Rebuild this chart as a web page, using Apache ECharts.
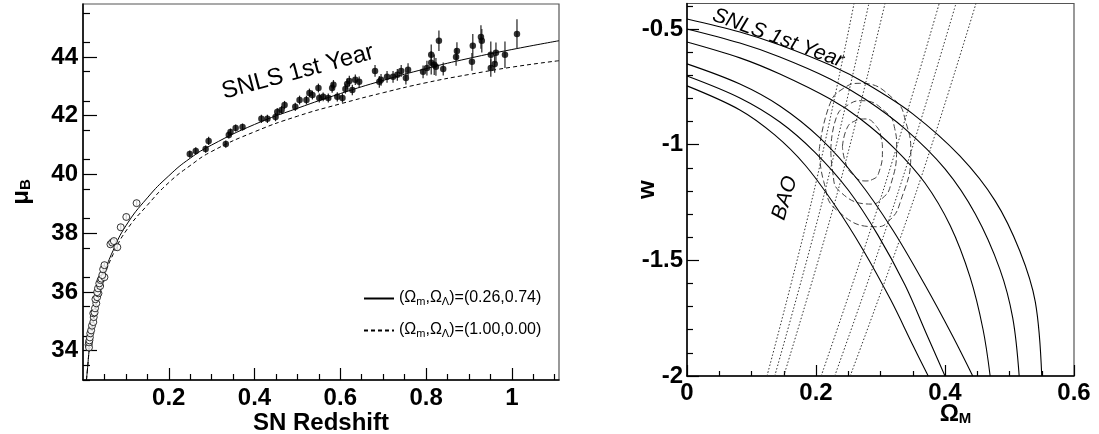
<!DOCTYPE html>
<html>
<head>
<meta charset="utf-8">
<script src="https://cdn.jsdelivr.net/npm/echarts@6/dist/echarts.min.js"></script>
<style>
html, body { margin: 0; padding: 0; background: #fff; }
#main { width: 1099px; height: 434px; }
</style>
</head>
<body>
<div id="main"></div>
<script>
// ---- left panel: Hubble diagram ----
// [redshift, mu_B, error]
var nearbySN = [
  [0.013, 34.20, 0.12], [0.014, 34.11, 0.12], [0.014, 34.28, 0.12], [0.015, 34.35, 0.12],
  [0.016, 34.45, 0.12], [0.017, 34.59, 0.12], [0.019, 34.69, 0.12], [0.021, 34.85, 0.1],
  [0.024, 34.97, 0.1], [0.025, 35.14, 0.1], [0.024, 35.27, 0.1], [0.027, 35.30, 0.1],
  [0.028, 35.44, 0.1], [0.031, 35.61, 0.1], [0.029, 35.75, 0.1], [0.033, 35.82, 0.1],
  [0.036, 35.95, 0.1], [0.033, 35.99, 0.1], [0.035, 36.12, 0.1], [0.040, 36.20, 0.1],
  [0.038, 36.29, 0.1], [0.041, 36.40, 0.1], [0.043, 36.45, 0.1], [0.050, 36.50, 0.1],
  [0.045, 36.57, 0.1], [0.047, 36.77, 0.1], [0.050, 36.91, 0.1], [0.064, 37.62, 0.1],
  [0.068, 37.68, 0.1], [0.072, 37.73, 0.1], [0.080, 37.52, 0.1], [0.088, 38.20, 0.1],
  [0.101, 38.55, 0.1], [0.125, 39.02, 0.1]
];
var snlsSN = [
  [0.249, 40.69, 0.12], [0.263, 40.80, 0.12], [0.286, 40.86, 0.12], [0.293, 41.14, 0.14],
  [0.333, 41.03, 0.12], [0.340, 41.34, 0.12], [0.344, 41.44, 0.12], [0.356, 41.58, 0.12],
  [0.372, 41.61, 0.12], [0.416, 41.89, 0.14], [0.430, 41.89, 0.14], [0.449, 41.95, 0.14],
  [0.453, 42.12, 0.14], [0.463, 42.19, 0.14], [0.470, 42.36, 0.14], [0.495, 42.30, 0.14],
  [0.505, 42.53, 0.15], [0.521, 42.53, 0.15], [0.528, 42.77, 0.15], [0.535, 42.70, 0.15],
  [0.549, 42.94, 0.15], [0.551, 42.60, 0.15], [0.560, 42.64, 0.15], [0.572, 42.60, 0.15],
  [0.581, 42.94, 0.16], [0.584, 43.05, 0.16], [0.593, 42.64, 0.16], [0.605, 42.60, 0.16],
  [0.612, 42.91, 0.16], [0.616, 43.08, 0.18], [0.621, 43.18, 0.18], [0.628, 42.87, 0.18],
  [0.635, 43.22, 0.18], [0.644, 43.15, 0.18], [0.681, 43.52, 0.2], [0.691, 43.15, 0.2],
  [0.695, 43.22, 0.2], [0.709, 43.32, 0.2], [0.723, 43.32, 0.2], [0.733, 43.39, 0.2],
  [0.742, 43.52, 0.2], [0.753, 43.28, 0.22], [0.758, 43.56, 0.22], [0.793, 43.49, 0.22],
  [0.802, 43.62, 0.25], [0.812, 44.07, 0.35], [0.812, 43.80, 0.4], [0.819, 43.73, 0.35],
  [0.823, 43.66, 0.3], [0.830, 44.55, 0.35], [0.840, 43.59, 0.22], [0.870, 44.00, 0.3],
  [0.872, 44.20, 0.3], [0.907, 43.83, 0.3], [0.909, 44.38, 0.4], [0.928, 44.68, 0.4],
  [0.930, 44.55, 0.4], [0.951, 44.07, 0.45], [0.951, 43.62, 0.3], [0.963, 44.14, 0.35],
  [0.960, 43.76, 0.3], [0.984, 44.07, 0.45], [1.012, 44.78, 0.5]
];
// model curves: [z, mu]
var lcdmCurve = [
  [0.008, 33.0], [0.01, 33.3], [0.015, 34.1], [0.02, 34.6], [0.03, 35.5], [0.04, 36.15],
  [0.05, 36.65], [0.07, 37.4], [0.1, 38.25], [0.15, 39.2], [0.2, 39.95], [0.25, 40.55],
  [0.3, 41.0], [0.4, 41.7], [0.5, 42.25], [0.6, 42.75], [0.7, 43.2], [0.8, 43.6],
  [0.9, 43.95], [1.0, 44.25], [1.11, 44.55]
];
var edsCurve = [
  [0.008, 33.0], [0.01, 33.3], [0.015, 34.08], [0.02, 34.57], [0.03, 35.45], [0.04, 36.08],
  [0.05, 36.56], [0.07, 37.27], [0.1, 38.07], [0.15, 38.95], [0.2, 39.72], [0.25, 40.3],
  [0.3, 40.78], [0.4, 41.45], [0.5, 41.98], [0.6, 42.4], [0.7, 42.78], [0.8, 43.12],
  [0.9, 43.4], [1.0, 43.65], [1.11, 43.87]
];
var xTicksL = [0.2, 0.4, 0.6, 0.8, 1];
var yTicksL = [34, 36, 38, 40, 42, 44];

// ---- right panel: (Omega_M, w) contours ----
var snlsUpper = [
  [[0, -0.457], [0.082, -0.513], [0.144, -0.569], [0.222, -0.656], [0.279, -0.738], [0.350, -0.867],
   [0.423, -1.049], [0.478, -1.244], [0.516, -1.460], [0.540, -1.680], [0.550, -2.0]],
  [[0, -0.5], [0.082, -0.561], [0.144, -0.621], [0.222, -0.716], [0.276, -0.803], [0.338, -0.932],
   [0.400, -1.105], [0.447, -1.300], [0.485, -1.538], [0.505, -1.749], [0.515, -2.0]],
  [[0, -0.556], [0.082, -0.625], [0.144, -0.695], [0.222, -0.803], [0.268, -0.887], [0.322, -1.017],
   [0.369, -1.166], [0.408, -1.350], [0.439, -1.574], [0.459, -1.799], [0.470, -2.0]]
];
var snlsLower = [
  [[0, -0.651], [0.082, -0.738], [0.144, -0.833], [0.206, -0.971], [0.265, -1.153], [0.319, -1.369],
   [0.369, -1.607], [0.411, -1.823], [0.443, -2.0]],
  [[0, -0.703], [0.082, -0.798], [0.144, -0.902], [0.198, -1.032], [0.250, -1.196], [0.296, -1.391],
   [0.338, -1.607], [0.372, -1.823], [0.400, -2.0]],
  [[0, -0.746], [0.082, -0.850], [0.136, -0.958], [0.183, -1.088], [0.229, -1.261], [0.273, -1.455],
   [0.316, -1.672], [0.350, -1.866], [0.374, -2.0]]
];
var baoLines = [
  [[0.124, -2], [0.197, -1.2], [0.259, -0.39]],
  [[0.136, -2], [0.214, -1.2], [0.282, -0.39]],
  [[0.150, -2], [0.234, -1.2], [0.307, -0.39]],
  [[0.208, -2], [0.304, -1.2], [0.391, -0.39]],
  [[0.229, -2], [0.328, -1.2], [0.417, -0.39]],
  [[0.253, -2], [0.356, -1.2], [0.448, -0.39]]
];
var jointContours = [
  [[0.241, -1.009], [0.248, -0.929], [0.260, -0.898], [0.276, -0.889], [0.294, -0.922], [0.301, -0.970],
   [0.303, -1.023], [0.297, -1.124], [0.288, -1.150], [0.276, -1.157], [0.255, -1.124], [0.245, -1.070],
   [0.241, -1.009]],
  [[0.223, -1.023], [0.232, -0.879], [0.250, -0.828], [0.271, -0.810], [0.310, -0.864], [0.322, -0.930],
   [0.325, -1.009], [0.315, -1.182], [0.302, -1.234], [0.286, -1.257], [0.235, -1.197], [0.226, -1.120],
   [0.223, -1.023]],
  [[0.205, -1.023], [0.222, -0.821], [0.243, -0.756], [0.268, -0.735], [0.322, -0.807], [0.340, -0.910],
   [0.347, -1.037], [0.330, -1.254], [0.313, -1.330], [0.294, -1.355], [0.232, -1.283], [0.212, -1.160],
   [0.205, -1.023]]
];
var xTicksR = [0, 0.2, 0.4, 0.6];
var yTicksR = [-2, -1.5, -1, -0.5];

function minorTicks(start, end, step, every) {
  var out = [];
  var n = Math.round((end - start) / step);
  for (var i = 0; i <= n; i++) {
    if (i % every !== 0) out.push(Math.round((start + i * step) * 1000) / 1000);
  }
  return out;
}

var FONT = 'Liberation Sans, Arial, Helvetica, sans-serif';
var BLACK = '#000';
var subRich = {
  n: { fontFamily: FONT, fontSize: 24, fontWeight: 'bold', color: BLACK, lineHeight: 24, verticalAlign: 'top' },
  s: { fontFamily: FONT, fontSize: 15, fontWeight: 'bold', color: BLACK, lineHeight: 15, verticalAlign: 'bottom', padding: [14, 0, 0, 0] }
};

function majorAxis(grid, min, max, labels, tickLen, margin, extra) {
  var a = {
    gridIndex: grid, type: 'value', min: min, max: max,
    axisLine: { show: true, onZero: false, lineStyle: { color: BLACK, width: 1.5 } },
    axisTick: { show: true, inside: true, length: tickLen, customValues: labels, lineStyle: { color: BLACK, width: 1.2 } },
    axisLabel: { customValues: labels, margin: margin, fontFamily: FONT, fontSize: 24, fontWeight: 'bold', color: BLACK,
                 formatter: function (v) { return String(v); } },
    splitLine: { show: false },
    nameMoveOverlap: false
  };
  for (var k in extra) a[k] = extra[k];
  return a;
}
function minorAxis(grid, min, max, values, tickLen, pos) {
  return {
    gridIndex: grid, type: 'value', min: min, max: max, position: pos,
    axisLine: { show: false, onZero: false },
    axisTick: { show: true, inside: true, length: tickLen, customValues: values, lineStyle: { color: BLACK, width: 1.2 } },
    axisLabel: { show: false },
    splitLine: { show: false }
  };
}
function contourLine(name, data, style, smooth) {
  return { name: name, type: 'line', xAxisIndex: 2, yAxisIndex: 2, data: data, smooth: smooth,
           symbol: 'none', lineStyle: style, z: 3 };
}

var legendNames = {
  lcdm: '{p|(}{o|Ω}{q|m}{p|,}{o|Ω}{q|Λ}{p|)=(0.26,0.74)}',
  eds: '{p|(}{o|Ω}{q|m}{p|,}{o|Ω}{q|Λ}{p|)=(1.00,0.00)}'
};

var chart = echarts.init(document.getElementById('main'), null, { renderer: 'canvas' });
chart.setOption({
  backgroundColor: '#fff',
  animation: false,
  grid: [
    { left: 83, top: 4, width: 476, height: 376, outerBoundsMode: 'none', show: true,
      borderColor: '#555', borderWidth: 1.2, backgroundColor: '#fff' },
    { left: 687, top: 3.5, width: 387, height: 372.5, outerBoundsMode: 'none', show: true,
      borderColor: '#555', borderWidth: 1.2, backgroundColor: '#fff' }
  ],
  xAxis: [
    majorAxis(0, 0, 1.11, xTicksL, 12, 6, {
      position: 'bottom', name: 'SN Redshift', nameLocation: 'middle', nameGap: 31,
      nameTextStyle: { fontFamily: FONT, fontSize: 24, fontWeight: 'bold', color: BLACK }
    }),
    minorAxis(0, 0, 1.11, minorTicks(0, 1.1, 0.05, 4), 6, 'bottom'),
    majorAxis(1, 0, 0.6, xTicksR, 11, 5, {
      position: 'bottom', name: '{n|Ω}{s|M}', nameLocation: 'middle', nameGap: 26,
      nameTextStyle: { rich: subRich, padding: [0, 0, 0, 150] }
    }),
    minorAxis(1, 0, 0.6, minorTicks(0, 0.55, 0.05, 4), 5, 'bottom')
  ],
  yAxis: [
    majorAxis(0, 33, 45.8, yTicksL, 14, 5, {
      position: 'left', name: '{n|μ}{s|B}', nameLocation: 'middle', nameGap: 50, nameRotate: 90,
      nameTextStyle: { rich: subRich }
    }),
    minorAxis(0, 33, 45.8, minorTicks(33, 45.5, 0.5, 4).concat([33]).filter(function (v) { return v % 2 !== 0; }), 7, 'left'),
    majorAxis(1, -2, -0.39, yTicksR, 12, 4, {
      position: 'left', name: 'w', nameLocation: 'middle', nameGap: 28, nameRotate: 90,
      nameTextStyle: { fontFamily: FONT, fontSize: 24, fontWeight: 'bold', color: BLACK }
    }),
    minorAxis(1, -2, -0.39, minorTicks(-2, -0.4, 0.1, 5), 6, 'left')
  ],
  legend: {
    left: 363, top: 287, padding: 0, orient: 'vertical', itemWidth: 30, itemHeight: 12, itemGap: 12,
    data: ['lcdm', 'eds'],
    itemStyle: { color: 'rgba(0,0,0,0)', borderColor: 'rgba(0,0,0,0)', borderWidth: 0 },
    formatter: function (name) { return legendNames[name]; },
    textStyle: {
      rich: {
        p: { fontFamily: FONT, fontSize: 16, color: BLACK, lineHeight: 17, verticalAlign: 'top' },
        o: { fontFamily: FONT, fontSize: 16, color: BLACK, lineHeight: 17, verticalAlign: 'top' },
        q: { fontFamily: FONT, fontSize: 11, color: BLACK, lineHeight: 11, verticalAlign: 'bottom', padding: [9, 0, 0, 0] }
      }
    }
  },
  series: [
    { name: 'lcdm', type: 'line', xAxisIndex: 0, yAxisIndex: 0, data: lcdmCurve, smooth: true, symbol: 'none',
      lineStyle: { color: BLACK, width: 1 }, itemStyle: { color: BLACK }, z: 3 },
    { name: 'eds', type: 'line', xAxisIndex: 0, yAxisIndex: 0, data: edsCurve, smooth: true, symbol: 'none',
      lineStyle: { color: BLACK, width: 1, type: [4, 3] }, itemStyle: { color: BLACK }, z: 3 },
    { name: 'errors', type: 'custom', xAxisIndex: 0, yAxisIndex: 0, data: nearbySN.concat(snlsSN),
      encode: { x: 0, y: 1 }, z: 4,
      renderItem: function (params, api) {
        var x = api.value(0), y = api.value(1), e = api.value(2);
        var lo = api.coord([x, y - e]), hi = api.coord([x, y + e]);
        return { type: 'line', shape: { x1: lo[0], y1: lo[1], x2: hi[0], y2: hi[1] },
                 style: { stroke: '#222', lineWidth: 1.2 } };
      } },
    { name: 'nearby', type: 'scatter', xAxisIndex: 0, yAxisIndex: 0, data: nearbySN, symbol: 'circle', symbolSize: 7,
      itemStyle: { color: '#fff', borderColor: BLACK, borderWidth: 1 }, z: 5 },
    { name: 'snls', type: 'scatter', xAxisIndex: 0, yAxisIndex: 0, data: snlsSN, symbol: 'circle', symbolSize: 6.5,
      itemStyle: { color: BLACK }, z: 5 }
  ]
    .concat(snlsUpper.concat(snlsLower).map(function (d, i) {
      return contourLine('snls-contour-' + i, d, { color: BLACK, width: 1.1 }, 0.35);
    }))
    .concat(baoLines.map(function (d, i) {
      return contourLine('bao-' + i, d, { color: '#333', width: 1, type: [1.5, 2] }, 0.4);
    }))
    .concat(jointContours.map(function (d, i) {
      return { name: 'joint-' + i, type: 'line', xAxisIndex: 2, yAxisIndex: 2, data: d, smooth: 0.5, symbol: 'none',
               lineStyle: { color: '#444', width: 1, type: [6, 3] }, z: 2 };
    })),
  graphic: [
    { type: 'text', x: 298, y: 72, rotation: 15 * Math.PI / 180, z: 10,
      style: { text: 'SNLS 1st Year', font: '24px ' + FONT, fill: BLACK, align: 'center', verticalAlign: 'middle' } },
    { type: 'text', x: 778, y: 38, rotation: -20 * Math.PI / 180, z: 10,
      style: { text: 'SNLS 1st Year', font: 'italic 21px ' + FONT, fill: BLACK, align: 'center', verticalAlign: 'middle' } },
    { type: 'text', x: 785, y: 198, rotation: 73 * Math.PI / 180, z: 10,
      style: { text: 'BAO', font: 'italic 21px ' + FONT, fill: BLACK, align: 'center', verticalAlign: 'middle' } }
  ]
});
</script>
</body>
</html>
